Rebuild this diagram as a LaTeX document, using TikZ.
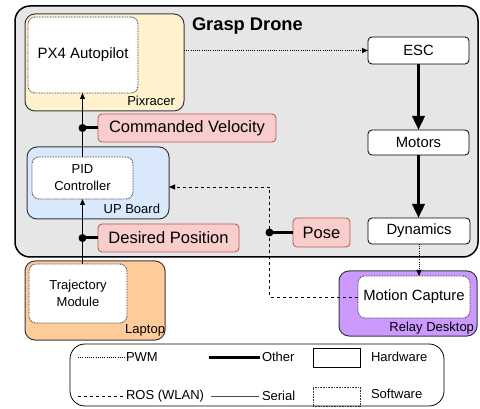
\documentclass[tikz,border=0pt]{standalone}
\usepackage{fontspec}
\setmainfont{Liberation Sans}
\usetikzlibrary{arrows.meta,calc}
\definecolor{dronegray}{HTML}{E6E6E6}
\definecolor{pixfill}{HTML}{FFF2CC}
\definecolor{upfill}{HTML}{DAE8FC}
\definecolor{lapfill}{HTML}{FFCC99}
\definecolor{relayfill}{HTML}{CC99FF}
\definecolor{pinkfill}{HTML}{F8CECC}
\definecolor{pinkdraw}{HTML}{B85450}
\definecolor{boxdraw}{HTML}{36393D}
\begin{document}
\begin{tikzpicture}[x=1pt,y=-1pt,
  every node/.style={inner sep=0pt,outer sep=0pt},
  hwbox/.style={draw=boxdraw,line width=1pt,rounded corners=10pt},
  swbox/.style={draw=black!80,fill=white,line width=0.8pt,dash pattern=on 0.8pt off 0.8pt,rounded corners=7pt,align=center,font=\fontsize{13}{16}\selectfont},
  plainbox/.style={draw=black,fill=white,line width=0.8pt,rounded corners=4pt,font=\fontsize{14.8}{17}\selectfont},
  sigbox/.style={draw=pinkdraw,fill=pinkfill,line width=0.8pt,rounded corners=4pt,font=\fontsize{16.5}{19}\selectfont},
  boxlabel/.style={anchor=base east,font=\fontsize{13}{16}\selectfont},
  legtext/.style={anchor=west,font=\fontsize{13}{16}\selectfont},
  thinarrow/.style={line width=0.8pt,-{Triangle[length=6pt,width=5pt]}},
  thickarrow/.style={line width=3.5pt,-{Triangle[length=14pt,width=12pt]}},
  tapline/.style={line width=3pt},
  dotline/.style={line width=0.8pt,dash pattern=on 1pt off 1.2pt},
  dashline/.style={line width=0.8pt,dash pattern=on 3pt off 3pt},
  tapdot/.style={circle,fill=black,minimum size=8pt}
]
\useasboundingbox (0,0) rectangle (480,409);

% Drone enclosure
\node[draw=black,line width=1.5pt,fill=dronegray,rounded corners=15pt,minimum width=463pt,minimum height=251pt] (drone) at (246.5,131.5) {};
\node[font=\bfseries\fontsize{18.3}{21}\selectfont,anchor=base west] (title) at (192,31) {Grasp Drone};

% Pixracer
\node[hwbox,fill=pixfill,minimum width=159pt,minimum height=97pt] (pixracer) at (104.5,62.5) {};
\node[swbox,minimum width=110pt,minimum height=76pt,font=\fontsize{15}{18}\selectfont] (px4) at (83,55) {PX4 Autopilot};
\node[boxlabel] (pixlbl) at (175,106) {Pixracer};

% ESC, Motors, Dynamics
\node[plainbox,minimum width=101pt,minimum height=27pt] (esc) at (418.5,50.5) {ESC};
\node[plainbox,minimum width=101pt,minimum height=25pt] (motors) at (418.5,142.5) {Motors};
\node[plainbox,minimum width=102pt,minimum height=26pt] (dyn) at (419,231) {Dynamics};

% UP Board
\node[hwbox,fill=upfill,minimum width=142pt,minimum height=72pt] (upboard) at (98,183) {};
\node[swbox,minimum width=101pt,minimum height=42pt] (pid) at (82.5,178) {PID\\[1pt]Controller};
\node[boxlabel] (uplbl) at (160,214) {UP Board};

% Signal labels
\node[sigbox,minimum width=178pt,minimum height=28pt] (cmdvel) at (187,128) {Commanded Velocity};
\node[sigbox,minimum width=141pt,minimum height=28pt] (despos) at (168.5,238) {Desired Position};
\node[sigbox,minimum width=57pt,minimum height=29pt] (pose) at (321.5,232.5) {Pose};

% Laptop
\node[hwbox,fill=lapfill,minimum width=140pt,minimum height=79pt] (laptop) at (95,300.5) {};
\node[swbox,minimum width=98pt,minimum height=59pt] (traj) at (78,293.5) {Trajectory\\[1pt]Module};
\node[boxlabel] (laplbl) at (165,334) {Laptop};

% Relay Desktop
\node[hwbox,fill=relayfill,minimum width=138pt,minimum height=65pt] (relay) at (408,303.5) {};
\node[swbox,minimum width=112pt,minimum height=42pt,font=\fontsize{14.8}{17}\selectfont] (mocap) at (414,297) {Motion Capture};
\node[boxlabel] (relaylbl) at (474,331) {Relay Desktop};

% Connectors
\draw[dotline,-{Triangle[length=6pt,width=5pt]}] (pixracer.east |- esc) -- (esc.west);
\draw[thickarrow] (esc.south) -- (motors.north);
\draw[thickarrow] (motors.south) -- (motors.south |- dyn.north);
\draw[dotline,-{Triangle[length=6pt,width=5pt]}] (dyn.south) -- (dyn.south |- mocap.north);

\draw[thinarrow] (pid.north) -- (pid.north |- px4.south);
\node[tapdot] (cvdot) at (pid.north |- cmdvel.west) {};
\draw[tapline] (cvdot.center) -- (cmdvel.west);

\draw[thinarrow] (pid.south |- traj.north) -- (pid.south);
\node[tapdot] (dpdot) at (pid.south |- despos.west) {};
\draw[tapline] (dpdot.center) -- (despos.west);

\coordinate (ubin) at ([yshift=-4pt]upboard.east);
\coordinate (bend) at (269.5,0);
\draw[dashline,-{Triangle[length=6pt,width=5pt]}] (mocap.west) -| (bend |- ubin) -- (ubin);
\node[tapdot] (posedot) at (bend |- pose.west) {};
\draw[tapline] (posedot.center) -- (pose.west);

% Legend
\node[draw=black,line width=0.8pt,rounded corners=15pt,minimum width=374pt,minimum height=62pt] (legend) at (257,375) {};
\node[legtext] (lpwm) at (126,357) {PWM};
\node[legtext] (lros) at (126,396) {ROS (WLAN)};
\node[legtext] (loth) at (262,357) {Other};
\node[legtext] (lser) at (262,396) {Serial};
\node[draw=black,line width=0.8pt,minimum width=47pt,minimum height=19pt] (lhw) at (336.5,357.5) {};
\node[draw=black!80,line width=0.8pt,dash pattern=on 0.8pt off 0.8pt,minimum width=47pt,minimum height=19pt] (lsw) at (336.5,396.5) {};
\node[legtext] (lhwt) at (371,357) {Hardware};
\node[legtext] (lswt) at (371,394) {Software};
\coordinate (p1) at (78,357);
\coordinate (p2) at (78,396);
\coordinate (p3) at (209,357);
\coordinate (p4) at (211,396);
\draw[dotline] (p1) -- (lpwm.west);
\draw[dashline] (p2) -- (lros.west);
\draw[tapline] (p3) -- ([xshift=-2pt]loth.west);
\draw[line width=0.8pt,black!70] (p4) -- ([xshift=-3pt]lser.west);
\end{tikzpicture}
\end{document}
